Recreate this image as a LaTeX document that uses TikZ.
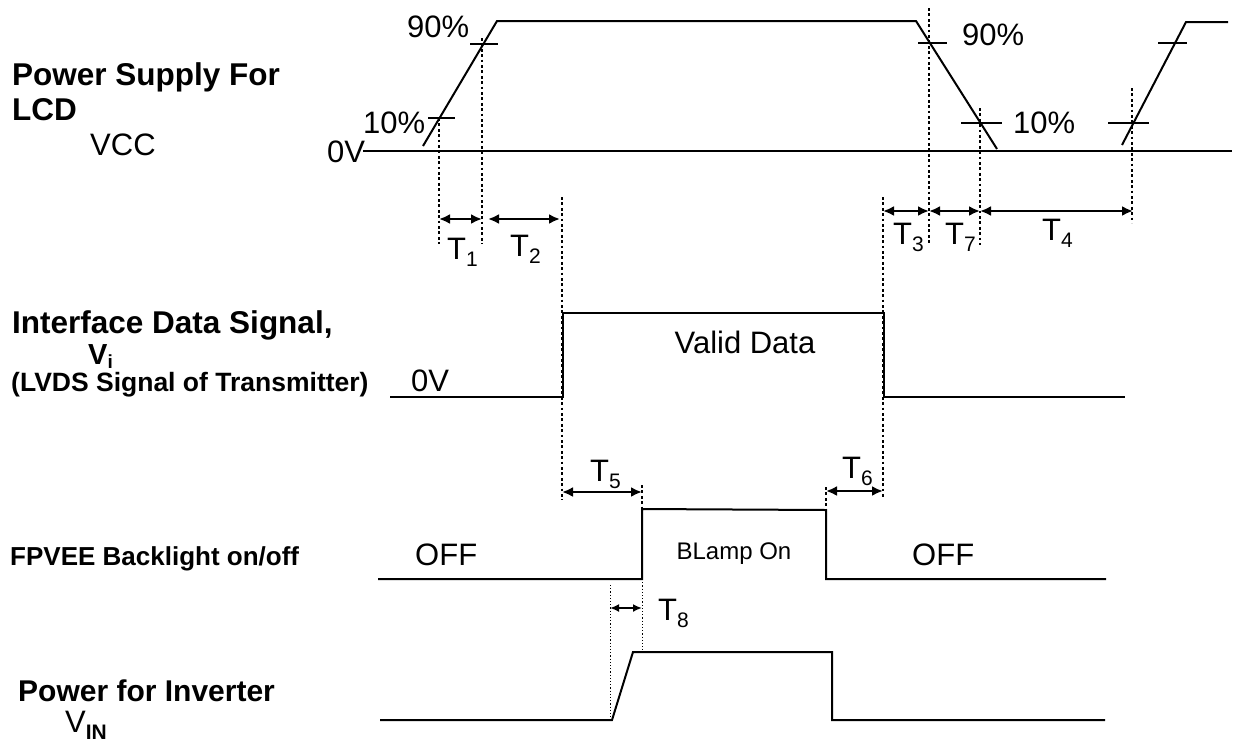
\documentclass[tikz,border=0pt]{standalone}
\usepackage{fontspec}
\setmainfont{Liberation Sans}
\usetikzlibrary{arrows.meta}
\newcommand{\Tsub}[1]{T\raisebox{-7pt}{\fontsize{21}{24}\selectfont #1}}
\begin{document}
\begin{tikzpicture}[x=1pt,y=-1pt,
  sig/.style={line width=2pt},
  tickmark/.style={line width=1.8pt},
  guide/.style={line width=2.8pt, dash pattern=on 2.8pt off 2.6pt},
  thinguide/.style={line width=1pt, dash pattern=on 1.2pt off 2pt},
  dim/.style={line width=2.2pt, {Latex[length=11pt,width=10pt]}-{Latex[length=11pt,width=10pt]}},
  thindim/.style={line width=1.8pt, {Latex[length=9pt,width=8pt]}-{Latex[length=9pt,width=8pt]}},
  lbl/.style={inner sep=0pt, anchor=base west, font=\fontsize{31}{36}\selectfont},
  blbl/.style={inner sep=0pt, anchor=base west, font=\fontsize{31.5}{36}\selectfont\bfseries},
]
\useasboundingbox (0,0) rectangle (1234,742);

% ---------- left labels ----------
\node[blbl] (psf) at (12,85) {Power Supply For};
\node[blbl] (lcd) at (12,120) {LCD};
\node[lbl] (vcc) at (90,155) {VCC};
\node[blbl] (ids) at (12,333) {Interface Data Signal,};
\node[inner sep=0pt, anchor=base west, font=\fontsize{29}{36}\selectfont\bfseries] (vi) at (88,364) {V\raisebox{-4pt}{\fontsize{19}{24}\selectfont i}};
\node[inner sep=0pt, anchor=base west, font=\fontsize{26.5}{30}\selectfont\bfseries] (lvds) at (11,391) {(LVDS Signal of Transmitter)};
\node[inner sep=0pt, anchor=base west, font=\fontsize{26}{30}\selectfont\bfseries] (fpvee) at (10,565) {FPVEE Backlight on/off};
\node[inner sep=0pt, anchor=base west, font=\fontsize{30}{36}\selectfont\bfseries] (pfi) at (18,701) {Power for Inverter};
\node[lbl] (vin) at (65,732) {V\raisebox{-7pt}{\fontsize{21}{24}\selectfont\bfseries IN}};

% ---------- VCC trace ----------
\coordinate (b0) at (363,151); \coordinate (b1) at (1232,151);
\draw[sig] (b0) -- (b1);
\draw[sig] (423,146) -- (497,21) -- (916,21) -- (997,149);
\draw[sig] (1122,145) -- (1186,22) -- (1228,22);
\draw[tickmark] (470,44) -- (498,44);
\draw[tickmark] (428,118) -- (455,118);
\draw[tickmark] (918,43) -- (947,43);
\draw[tickmark] (961,123) -- (1002,123);
\draw[tickmark] (1158,43) -- (1187,43);
\draw[tickmark] (1108,123) -- (1149,123);
\node[lbl] (p90a) at (407,37) {90\%};
\node[lbl] (p10a) at (363,133) {10\%};
\node[lbl] (zv1) at (327,162) {0V};
\node[lbl] (p90b) at (962,45) {90\%};
\node[lbl] (p10b) at (1013,133) {10\%};

% ---------- guides ----------
\draw[guide] (439,118) -- (439,244);
\draw[guide] (482,38) -- (482,244);
\draw[guide] (562,197) -- (562,500);
\draw[guide] (883,197) -- (883,497);
\draw[guide] (929,8) -- (929,245);
\draw[guide] (980,108) -- (980,245);
\draw[guide] (1132,88) -- (1132,223);
\draw[guide] (642,485) -- (642,509);
\draw[guide] (826,487) -- (826,525);
\draw[thinguide] (610,585) -- (610,718);
\draw[thinguide] (642,579) -- (642,650);

% ---------- dimension arrows ----------
\coordinate (t1a) at (439,219); \coordinate (t1b) at (482,219);
\coordinate (t2a) at (488,219); \coordinate (t2b) at (560,219);
\coordinate (t3a) at (883,211); \coordinate (t3b) at (929,211);
\coordinate (t7a) at (929,211); \coordinate (t7b) at (980,211);
\coordinate (t4a) at (980,211); \coordinate (t4b) at (1133,211);
\coordinate (t5a) at (562,492); \coordinate (t5b) at (642,492);
\coordinate (t6a) at (826,491); \coordinate (t6b) at (883,491);
\coordinate (t8a) at (610,608); \coordinate (t8b) at (642,608);
\draw[dim] (t1a) -- (t1b);
\draw[dim] (t2a) -- (t2b);
\draw[dim] (t3a) -- (t3b);
\draw[dim] (t7a) -- (t7b);
\draw[dim] (t4a) -- (t4b);
\draw[dim] (t5a) -- (t5b);
\draw[dim] (t6a) -- (t6b);
\draw[thindim] (t8a) -- (t8b);
\node[lbl] (T1) at (447,259) {\Tsub{1}};
\node[lbl] (T2) at (510,256) {\Tsub{2}};
\node[lbl] (T3) at (893,244) {\Tsub{3}};
\node[lbl] (T7) at (945,244) {\Tsub{7}};
\node[lbl] (T4) at (1042,240) {\Tsub{4}};
\node[lbl] (T5) at (590,481) {\Tsub{5}};
\node[lbl] (T6) at (842,478) {\Tsub{6}};
\node[lbl] (T8) at (658,620) {\Tsub{8}};

% ---------- Interface data signal ----------
\draw[sig] (390,397) -- (563,397) -- (563,313) -- (884,313) -- (884,397) -- (1125,397);
\node[lbl] (zv2) at (411,391) {0V};
\node[lbl, anchor=base] (valid) at (745,353) {Valid Data};

% ---------- FPVEE backlight ----------
\draw[sig] (378,579) -- (642,579) -- (642,509) -- (826,510) -- (826,579) -- (1106,579);
\node[lbl] (off1) at (415,565) {OFF};
\node[inner sep=0pt, anchor=base, font=\fontsize{24}{28}\selectfont] (blamp) at (734,559) {BLamp On};
\node[lbl] (off2) at (912,565) {OFF};

% ---------- Power for inverter ----------
\draw[sig] (380,720) -- (612,720) -- (633,652) -- (832,652) -- (832,720) -- (1105,720);
\end{tikzpicture}
\end{document}
